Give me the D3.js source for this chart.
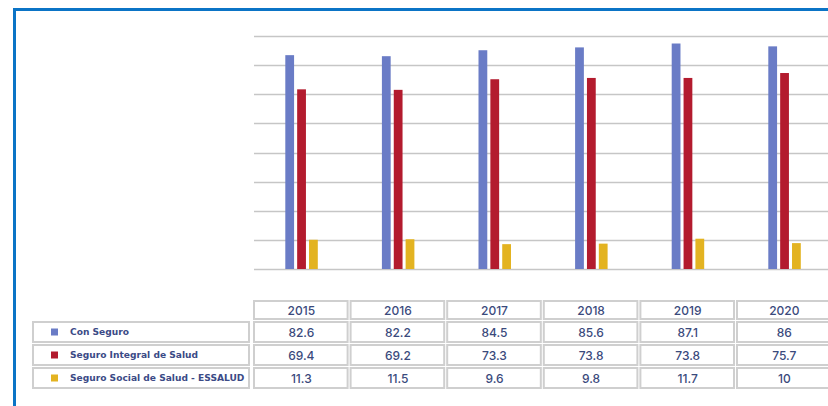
<!DOCTYPE html>
<html>
<head>
<meta charset="utf-8">
<script src="https://cdn.jsdelivr.net/npm/d3@7"></script>
<style>
html,body{margin:0;padding:0;background:#fff;}
svg{display:block;font-family:Inter,"Open Sans",sans-serif;}
</style>
</head>
<body>
<svg id="chart" width="828" height="406"></svg>
<script>
const years = ["2015","2016","2017","2018","2019","2020"];
const seriesNames = ["Con Seguro","Seguro Integral de Salud","Seguro Social de Salud - ESSALUD"];
const conSeguro = [82.6, 82.2, 84.5, 85.6, 87.1, 86];
const sis = [69.4, 69.2, 73.3, 73.8, 73.8, 75.7];
const essalud = [11.3, 11.5, 9.6, 9.8, 11.7, 10];
const valueLabels = [
  ["82.6","82.2","84.5","85.6","87.1","86"],
  ["69.4","69.2","73.3","73.8","73.8","75.7"],
  ["11.3","11.5","9.6","9.8","11.7","10"]
];
const colors = ["#6a7cc6","#b31b2e","#e3b321"];
const gridTicks = [0, 11.25, 22.5, 33.75, 45, 56.25, 67.5, 78.75, 90];

const series = [conSeguro, sis, essalud];
const svg = d3.select("#chart");

// frame
svg.append("path")
  .attr("d", "M14.5,420 L14.5,9.5 L840,9.5")
  .attr("fill","none").attr("stroke","#0b74c6").attr("stroke-width",3);

const x = d3.scaleBand().domain(years).range([253, 253 + 6*96.6]).paddingInner(0).paddingOuter(0);
const y = d3.scaleLinear().domain([0, 90]).range([269, 36]);

// gridlines
svg.append("g").selectAll("line").data(gridTicks).join("line")
  .attr("x1", 254).attr("x2", 828)
  .attr("y1", d => Math.round(y(d)) + 0.5).attr("y2", d => Math.round(y(d)) + 0.5)
  .attr("stroke", "#c6c6c6").attr("stroke-width", 1.6);

// bars
const inner = d3.scaleBand().domain(d3.range(3)).range([-16, 16.5]).paddingInner(0.26);
const gBars = svg.append("g");
years.forEach((yr, i) => {
  series.forEach((s, k) => {
    gBars.append("rect")
      .attr("x", x(yr) + x.bandwidth()/2 + inner(k))
      .attr("width", inner.bandwidth())
      .attr("y", y(s[i]))
      .attr("height", y(0) - y(s[i]))
      .attr("fill", colors[k]);
  });
});

// table
const cellStroke = "#cfcfcf";
const tg = svg.append("g");
const headerTop = 300, headerH = 20;
const rowTops = [321, 344, 367], rowH = 22;
years.forEach(yr => {
  tg.append("rect").attr("x", x(yr)+1).attr("y", headerTop+1).attr("width", x.bandwidth()-3).attr("height", headerH-2)
    .attr("fill","#fff").attr("stroke",cellStroke).attr("stroke-width",2);
  tg.append("text").attr("x", x(yr)+x.bandwidth()/2).attr("y", headerTop+headerH/2+4.5)
    .attr("text-anchor","middle").attr("font-size",12).attr("font-weight",500).attr("fill","#3a4a7c").text(yr);
});
seriesNames.forEach((name, k) => {
  const top = rowTops[k];
  tg.append("rect").attr("x", 33).attr("y", top+1).attr("width", 216).attr("height", rowH-2)
    .attr("fill","#fff").attr("stroke",cellStroke).attr("stroke-width",2);
  tg.append("rect").attr("x", 51).attr("y", top+rowH/2-3.5).attr("width", 7).attr("height", 7).attr("fill", colors[k]);
  tg.append("text").attr("x", 70).attr("y", top+rowH/2+3.4)
    .attr("font-family","'DejaVu Sans',sans-serif")
    .attr("font-size",9.1).attr("font-weight",600).attr("fill","#3b4a86").text(name);
  years.forEach((yr, i) => {
    tg.append("rect").attr("x", x(yr)+1).attr("y", top+1).attr("width", x.bandwidth()-3).attr("height", rowH-2)
      .attr("fill","#fff").attr("stroke",cellStroke).attr("stroke-width",2);
    tg.append("text").attr("x", x(yr)+x.bandwidth()/2).attr("y", top+rowH/2+4.5)
      .attr("text-anchor","middle").attr("font-size",12).attr("font-weight",500).attr("fill","#3a4a7c").text(valueLabels[k][i]);
  });
});
</script>
</body>
</html>
